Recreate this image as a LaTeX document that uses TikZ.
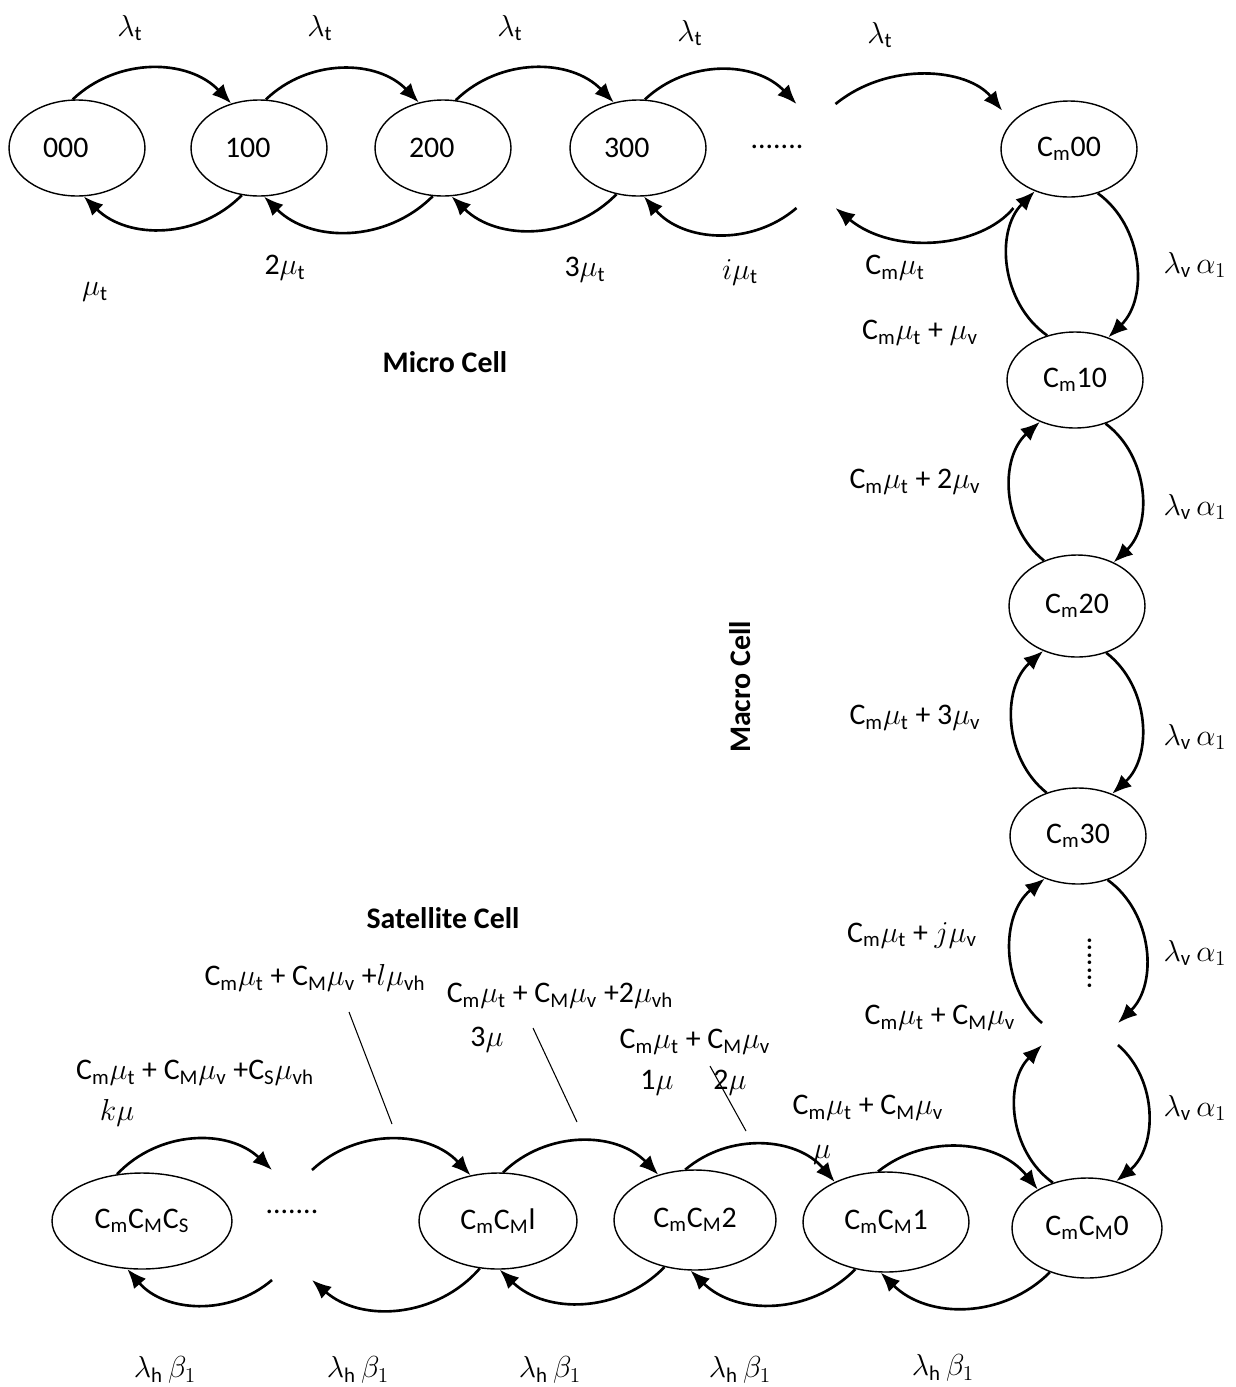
\documentclass[tikz,border=0pt]{standalone}
\usepackage{fontspec}
\setmainfont{Carlito}
\usetikzlibrary{shapes.geometric,arrows.meta}

\newcommand{\Csub}[1]{C\textsubscript{#1}}
\newcommand{\sub}[1]{_{\mathrm{#1}}}

\tikzset{
  state/.style={ellipse, draw, line width=0.8pt, minimum width=2.72cm, minimum height=1.92cm, inner sep=0pt},
  lstate/.style={state, execute at end node=\hspace{0.45cm}},  % Text etwas links
  ghost/.style={rectangle, draw=none, inner sep=0pt, outer sep=0pt},
  arr/.style={-{Latex[length=11pt,width=9pt]}, line width=1.5pt},
  title/.style={font=\fontsize{17}{20}\selectfont\bfseries}
}

\begin{document}
\begin{tikzpicture}[x=0.02cm, y=-0.02cm, font=\fontsize{17}{20}\selectfont]
  \useasboundingbox (0,0) rectangle (1235,1387);

  % Micro Cell Zeile
  \node[lstate] (s000) at (77,148) {000};
  \node[lstate] (s100) at (259,148) {100};
  \node[lstate] (s200) at (443,148) {200};
  \node[lstate] (s300) at (638,148) {300};
  \node[ghost, minimum width=0.78cm, minimum height=2.08cm] (sIdots) at (816,156) {};
  \node (dotsI) at (777,147) {.......};
  \node[state] (sCm00) at (1069,149) {\Csub{m}00};

  % Macro Cell Spalte
  \node[state] (sCm10) at (1075,380) {\Csub{m}10};
  \node[state, minimum height=2.04cm] (sCm20) at (1077,606) {\Csub{m}20};
  \node[state] (sCm30) at (1078,836) {\Csub{m}30};
  \node[ghost, minimum width=1.52cm, minimum height=0.44cm] (sJdots) at (1080,1034) {};
  \node[rotate=90] (dotsJ) at (1090,963) {.......};

  % Satellite Cell Zeile
  \node[state, minimum width=3.0cm, minimum height=2cm] (sCM0) at (1087,1228) {\Csub{m}\Csub{M}0};
  \node[state, minimum width=3.32cm, minimum height=2cm] (sCM1) at (886,1222) {\Csub{m}\Csub{M}1};
  \node[state, minimum width=3.24cm, minimum height=2cm] (sCM2) at (695,1220) {\Csub{m}\Csub{M}2};
  \node[state, minimum width=3.16cm] (sCMl) at (498,1221) {\Csub{m}\Csub{M}l};
  \node[ghost, minimum width=0.8cm, minimum height=2.2cm] (sKdots) at (292,1225) {};
  \node (dotsK) at (292,1212) {.......};
  \node[state, minimum width=3.6cm] (sCMS) at (142,1221) {\Csub{m}\Csub{M}\Csub{S}};

  % Pfeile oben
  \draw[arr] (s000.95) to[bend left=45] (s100.122);
  \draw[arr] (s100.82) to[bend left=45] (s200.118);
  \draw[arr] (s200.75) to[bend left=45] (s300.118);
  \draw[arr] (s300.82) to[bend left=45] (sIdots.north west);
  \draw[arr, shorten >=0.3cm] (sIdots.north east) to[bend left=45] (sCm00.155);
  \draw[arr] (s100.250) to[bend left=45] (s000.278);  % zurueck
  \draw[arr] (s200.258) to[bend left=45] (s100.276);
  \draw[arr] (s300.245) to[bend left=45] (s200.280);
  \draw[arr] (sIdots.south west) to[bend left=45] (s300.277);
  \draw[arr, shorten <=0.5cm] (sCm00.225) to[bend left=45] (sIdots.south east);

  % Pfeile rechts
  \draw[arr] (sCm00.303) to[bend left=50] (sCm10.52);
  \draw[arr] (sCm10.122) to[bend left=50] (sCm00.231);
  \draw[arr] (sCm10.305) to[bend left=50] (sCm20.50);
  \draw[arr] (sCm20.126) to[bend left=50] (sCm10.230);
  \draw[arr] (sCm20.302) to[bend left=50] (sCm30.51);
  \draw[arr] (sCm30.126) to[bend left=50] (sCm20.233);
  \draw[arr] (sCm30.304) to[bend left=50] (sJdots.north east);
  \draw[arr] (sJdots.north west) to[bend left=50] (sCm30.232);
  \draw[arr] (sJdots.south east) to[bend left=50] (sCM0.58);
  \draw[arr] (sCM0.127) to[bend left=50] (sJdots.south west);

  % Pfeile unten
  \draw[arr] (sCMS.118) to[bend left=45] (sKdots.north west);
  \draw[arr] (sKdots.north east) to[bend left=45] (sCMl.121);
  \draw[arr] (sCMl.84) to[bend left=45] (sCM2.129);
  \draw[arr] (sCM2.101) to[bend left=45] (sCM1.142);
  \draw[arr] (sCM1.99) to[bend left=45] (sCM0.142);
  \draw[arr] (sKdots.south west) to[bend left=45] (sCMS.253);  % zurueck
  \draw[arr] (sCMl.249) to[bend left=45] (sKdots.south east);
  \draw[arr] (sCM2.237) to[bend left=45] (sCMl.272);
  \draw[arr] (sCM1.237) to[bend left=45] (sCM2.265);
  \draw[arr] (sCM0.230) to[bend left=45] (sCM1.264);

  % Striche
  \draw[line width=0.6pt] (349,1012) -- (392,1124);
  \draw[line width=0.6pt] (533,1028) -- (577,1122);
  \draw[line width=0.6pt] (710,1066) -- (746,1131);

  % Raten
  \foreach \x/\y in {130/28,320/28,510/28,690/33,880/35}
    \node at (\x,\y) {$\lambda\sub{t}$};
  \foreach \y in {265,507,737,953,1108}
    \node at (1195,\y) {$\lambda\sub{v}\,\alpha_1$};
  \foreach \x/\y in {165/1370,358/1370,550/1370,740/1370,943/1368}
    \node at (\x,\y) {$\lambda\sub{h}\,\beta_1$};

  \node (lMuA) at (95,292) {$\mu\sub{t}$};
  \node (lMuB) at (285,268) {2$\mu\sub{t}$};
  \node (lMuC) at (585,270) {3$\mu\sub{t}$};
  \node (lMuI) at (740,272) {$i\mu\sub{t}$};
  \node (lMuM) at (895,268) {\Csub{m}$\mu\sub{t}$};
  \node (lMv1) at (920,333) {\Csub{m}$\mu\sub{t}$ + $\mu\sub{v}$};
  \node (lMv2) at (915,482) {\Csub{m}$\mu\sub{t}$ + 2$\mu\sub{v}$};
  \node (lMv3) at (915,718) {\Csub{m}$\mu\sub{t}$ + 3$\mu\sub{v}$};
  \node (lMvJ) at (912,935) {\Csub{m}$\mu\sub{t}$ + $j\mu\sub{v}$};
  \node (lMvM) at (940,1018) {\Csub{m}$\mu\sub{t}$ + \Csub{M}$\mu\sub{v}$};
  \node (lShL) at (315,978) {\Csub{m}$\mu\sub{t}$ + \Csub{M}$\mu\sub{v}$ +$l\mu\sub{vh}$};
  \node (lSh2) at (560,996) {\Csub{m}$\mu\sub{t}$ + \Csub{M}$\mu\sub{v}$ +2$\mu\sub{vh}$};
  \node (lSh3) at (487,1040) {3$\mu$};
  \node (lSh1) at (695,1042) {\Csub{m}$\mu\sub{t}$ + \Csub{M}$\mu\sub{v}$};
  \node (lOne) at (657,1083) {1$\mu$};
  \node (lTwo) at (730,1083) {2$\mu$};
  \node (lSh0) at (868,1108) {\Csub{m}$\mu\sub{t}$ + \Csub{M}$\mu\sub{v}$};
  \node (lMu) at (822,1155) {$\mu$};
  \node (lShS) at (195,1073) {\Csub{m}$\mu\sub{t}$ + \Csub{M}$\mu\sub{v}$ +\Csub{S}$\mu\sub{vh}$};
  \node (lShK) at (117,1113) {$k\mu$};

  % Ueberschriften
  \node[title] (tMicro) at (445,362) {Micro Cell};
  \node[title, rotate=90] (tMacro) at (740,687) {Macro Cell};
  \node[title] (tSat) at (443,918) {Satellite Cell};
\end{tikzpicture}
\end{document}
